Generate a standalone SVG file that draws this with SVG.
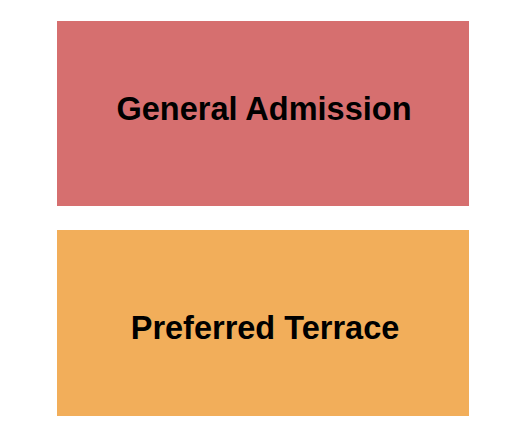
<svg xmlns="http://www.w3.org/2000/svg" width="525" height="444" viewBox="0 0 525 444">
<style>
.lbl{font-family:"Liberation Sans",Arial,sans-serif;font-weight:bold;font-size:32.5px;fill:#000;text-anchor:middle}
</style>
<rect width="525" height="444" fill="#fff"/>
<g id="general-admission">
<rect x="57" y="21" width="412" height="185" fill="#D66F6F"/>
<text class="lbl" x="264" y="119.5">General Admission</text>
</g>
<g id="preferred-terrace">
<rect x="57" y="230" width="412" height="186" fill="#F2AE5A"/>
<text class="lbl" x="265" y="338.5">Preferred Terrace</text>
</g>
<g id="connectors"></g>
</svg>
